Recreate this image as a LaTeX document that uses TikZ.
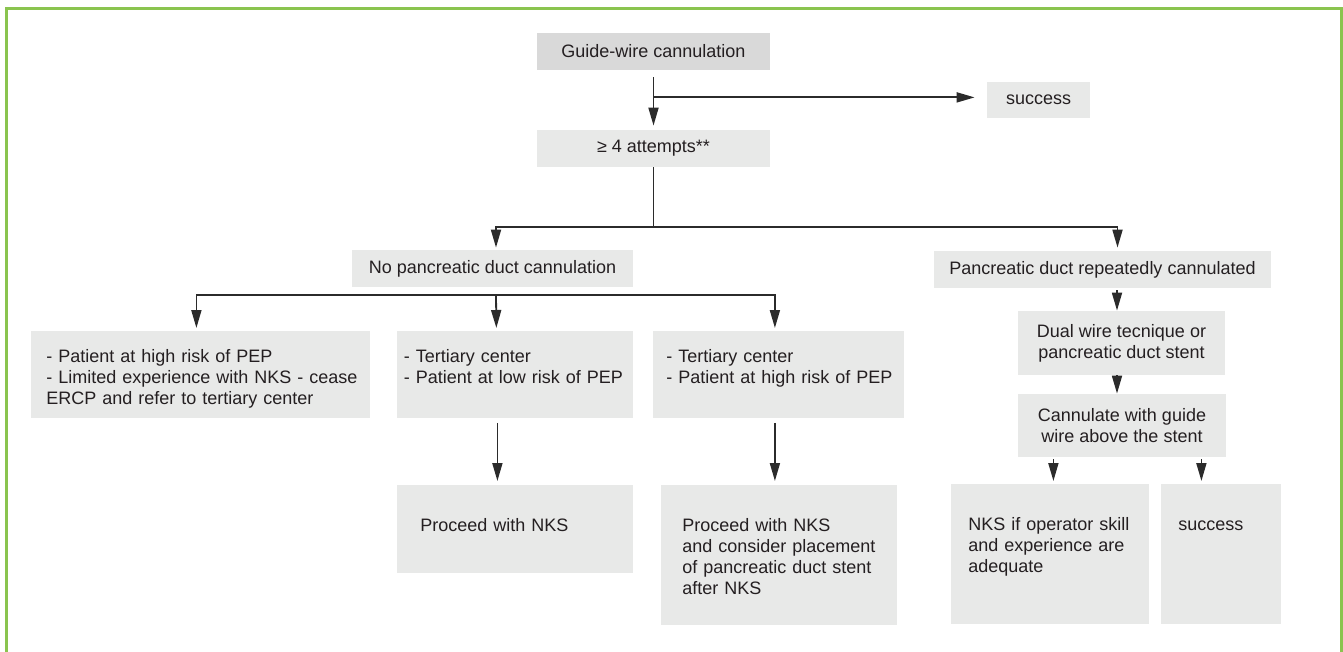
\documentclass[tikz,border=0pt]{standalone}
\usepackage{fontspec}
\usepackage{tikz}
\setmainfont{Liberation Sans}
\usetikzlibrary{arrows.meta}
\usetikzlibrary{positioning}
\definecolor{mgreen}{rgb}{0.54, 0.77, 0.31}
\definecolor{mgrey}{rgb}{0.91, 0.914, 0.91}
\definecolor{dgrey}{rgb}{0.85, 0.85, 0.85}
\definecolor{mline}{rgb}{0.17, 0.17, 0.17}
\definecolor{mtext}{rgb}{0.14, 0.12, 0.13}
\newcommand{\boxfont}{\fontsize{9pt}{10.35pt}\selectfont}
\tikzset{box/.style = {fill = mgrey, text = mtext, font = \boxfont, inner sep = 0, align = center}}
\tikzset{tbox/.style = {fill = mgrey, text = mtext, font = \boxfont, inner ysep = 0, align = left, anchor = north west}}
\tikzset{arr/.style = {draw = mline, line width = 0.9pt, -{Triangle[length = 9pt, width = 5pt]}}}
\tikzset{conn/.style = {draw = mline, line width = 0.9pt}}
\tikzset{frame/.style = {draw = mgreen, line width = 1.5pt}}

\begin{document}
\begin{tikzpicture}[x = 0.5pt, y = -0.5pt]
    \useasboundingbox (0, 0) rectangle (1343, 652);
    \draw [frame] (6.5, 652) -- (6.5, 8.5) -- (1341, 8.5) -- (1341, 652);
    \node [box, fill = dgrey, minimum width = 116.5pt, minimum height = 18.5pt] (guide) at (653.5, 51.5) {Guide-wire cannulation};
    \node [box, minimum width = 51.5pt, minimum height = 18pt] (succ1) at (1038.5, 100) {success};
    \node [box, minimum width = 116.5pt, minimum height = 18.5pt] (att) at (653.5, 148.5) {≥ 4 attempts**};
    \node [box, minimum width = 140.5pt, minimum height = 18.5pt] (nopd) at (492.5, 268.5) {No pancreatic duct cannulation};
    \node [box, minimum width = 168.5pt, minimum height = 18.5pt] (pdrep) at (1102.5, 269.5) {Pancreatic duct repeatedly cannulated};
    \node [box, minimum width = 103.5pt, minimum height = 32pt] (dual) at (1121.5, 343) {Dual wire tecnique or\\pancreatic duct stent};
    \node [box, minimum width = 104pt, minimum height = 31.5pt] (cann) at (1122, 425.5) {Cannulate with guide\\wire above the stent};
    \node [tbox, inner xsep = 7.5pt, text width = 154.5pt, text height = 15.75pt, text depth = 27.75pt] (pa) at (31, 331)
        {\mbox{- Patient at high risk of PEP}\\\mbox{- Limited experience with NKS - cease}\\\mbox{ERCP and refer to tertiary center}};
    \node [tbox, inner xsep = 3.25pt, text width = 111.5pt, text height = 15.75pt, text depth = 27.75pt] (pb) at (397, 331)
        {\mbox{- Tertiary center}\\\mbox{- Patient at low risk of PEP}};
    \node [tbox, inner xsep = 6.5pt, text width = 112.5pt, text height = 15.75pt, text depth = 27.75pt] (pc) at (653, 331)
        {\mbox{- Tertiary center}\\\mbox{- Patient at high risk of PEP}};
    \node [tbox, inner xsep = 11.5pt, text width = 95pt, text height = 23.25pt, text depth = 20.75pt] (pd) at (397, 485)
        {Proceed with NKS};
    \node [tbox, inner xsep = 10.5pt, text width = 97pt, text height = 23.25pt, text depth = 46.75pt] (pe) at (661, 485)
        {\mbox{Proceed with NKS}\\\mbox{and consider placement}\\\mbox{of pancreatic duct stent}\\\mbox{after NKS}};
    \node [tbox, inner xsep = 8.5pt, text width = 82pt, text height = 23.25pt, text depth = 46.75pt] (nks) at (951, 484)
        {\mbox{NKS if operator skill}\\\mbox{and experience are}\\\mbox{adequate}};
    \node [tbox, inner xsep = 8.5pt, text width = 43pt, text height = 23.25pt, text depth = 46.75pt] (succ2) at (1161, 484)
        {success};
    \coordinate (tee) at ([yshift = -13.5pt]guide.south);
    \coordinate (split) at ([yshift = -30pt]att.south);
    \coordinate (fork) at ([xshift = 1.75pt, yshift = -3.75pt]nopd.south);
    \coordinate (nopdin) at ([xshift = 1.75pt]nopd.north);
    \coordinate (pdrepin) at ([xshift = 7.5pt]pdrep.north);
    \coordinate (pain) at ([xshift = -2.25pt]pa.north);
    \coordinate (pbin) at ([xshift = -9.5pt]pb.north);
    \coordinate (pcin) at ([xshift = -2pt]pc.north);
    \coordinate (pdin) at ([xshift = -9pt]pd.north);
    \coordinate (pein) at ([xshift = -2.25pt]pe.north);
    \coordinate (dualin) at ([xshift = -2.25pt]dual.north);
    \coordinate (cannin) at ([xshift = -2.5pt]cann.north);
    \coordinate (nksin) at ([xshift = 1.5pt]nks.north);
    \coordinate (succin) at ([xshift = -10pt]succ2.north);
    \draw [arr, shorten <= 3.5pt, shorten >= 2pt] (guide) -- (att);
    \draw [arr, shorten >= 6pt] (tee) -- (tee -| succ1.west);
    \draw [conn] (att) -- (split);
    \draw [arr, shorten >= 1pt] (split) -| (nopdin);
    \draw [arr, shorten >= 1.5pt] (split) -| (pdrepin);
    \draw [arr, shorten >= 1.5pt] (fork) -| (pain);
    \draw [arr, shorten >= 1.5pt] (fork) -- (pbin);
    \draw [arr, shorten >= 1.5pt] (fork) -| (pcin);
    \draw [arr, shorten <= 2pt, shorten >= 2pt] (pb.south -| pdin) -- (pdin);
    \draw [arr, shorten <= 2pt, shorten >= 2pt] (pc.south -| pein) -- (pein);
    \draw [arr, shorten <= 1pt] (pdrep.south -| dualin) -- (dualin);
    \draw [arr] (dual.south -| cannin) -- (cannin);
    \draw [arr, shorten <= 1pt, shorten >= 1.5pt] (cann.south -| nksin) -- (nksin);
    \draw [arr, shorten <= 1pt, shorten >= 1.5pt] (cann.south -| succin) -- (succin);
\end{tikzpicture}
\end{document}
